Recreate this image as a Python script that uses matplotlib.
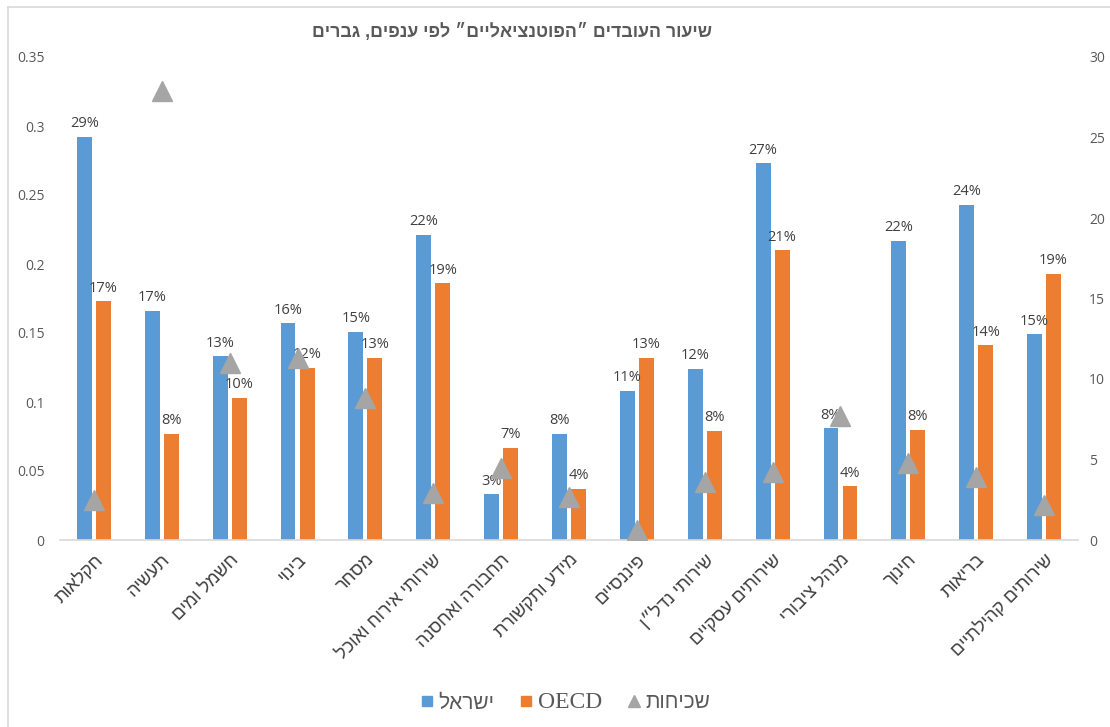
import numpy as np
import matplotlib
matplotlib.use("Agg")
import matplotlib.pyplot as plt
from matplotlib.lines import Line2D
from matplotlib.ticker import FuncFormatter

# sectors, left to right
sectors = ["חקלאות", "תעשיה", "חשמל ומים", "בינוי", "מסחר",
           "שירותי אירוח ואוכל", "תחבורה ואחסנה", "מידע ותקשורת",
           "פיננסיים", "שירותי נדל״ן", "שירותים עסקיים", "מנהל ציבורי",
           "חינוך", "בריאות", "שירותים קהילתיים"]

# share of "potential" workers, men (left axis)
israel = [0.292, 0.166, 0.133, 0.157, 0.151, 0.221, 0.033, 0.077,
          0.108, 0.124, 0.273, 0.081, 0.217, 0.243, 0.149]
oecd = [0.173, 0.077, 0.103, 0.125, 0.132, 0.186, 0.067, 0.037,
        0.132, 0.079, 0.210, 0.039, 0.080, 0.141, 0.193]

# frequency (right axis)
freq = [2.5, 27.9, 11.0, 11.3, 8.8, 2.9, 4.5, 2.7,
        0.6, 3.6, 4.2, 7.7, 4.8, 3.9, 2.2]

title = "שיעור העובדים ״הפוטנציאליים״ לפי ענפים, גברים"
legend_labels = ["ישראל", "OECD", "שכיחות"]

BLUE, ORANGE, GREY = "#5B9BD5", "#ED7D31", "#A5A5A5"
TXT, TICK, LINE = "#404040", "#595959", "#D9D9D9"
HEB = ["Liberation Sans", "DejaVu Sans"]
NUM = ["Open Sans", "DejaVu Sans"]


def rtl(s):
    # matplotlib has no bidi support: draw Hebrew in visual order
    return s[::-1]


fig = plt.figure(figsize=(11.1, 7.27), dpi=100)
ax = fig.add_axes([60 / 1110, 187 / 727, 1018 / 1110, 483 / 727])
ax2 = ax.twinx()

x = np.arange(len(sectors))
w = 0.22
off = 0.14
b1 = ax.bar(x - off, israel, w, color=BLUE, zorder=2)
b2 = ax.bar(x + off, oecd, w, color=ORANGE, zorder=2)

for bars in (b1, b2):
    for r in bars:
        v = r.get_height()
        ax.annotate(f"{v:.0%}", (r.get_x() + r.get_width() / 2, v),
                    xytext=(0, 4), textcoords="offset points",
                    ha="center", va="bottom", fontsize=10.5,
                    color=TXT, family=NUM)

ax2.plot(x, freq, ls="none", marker="^", ms=14, color=GREY, zorder=3)

ax.set_xlim(-0.5, len(sectors) - 0.5)
ax.set_ylim(0, 0.35)
ax.set_yticks(np.arange(0, 0.351, 0.05))
ax.yaxis.set_major_formatter(FuncFormatter(lambda v, _: f"{v:.2f}".rstrip("0").rstrip(".")))
ax2.set_ylim(0, 30)
ax2.set_yticks(range(0, 31, 5))

ax.set_xticks(x)
ax.set_xticklabels([rtl(s) for s in sectors], rotation=45, ha="right",
                   rotation_mode="anchor", fontsize=13, color=TXT, family=HEB)

for a in (ax, ax2):
    for s in a.spines.values():
        s.set_visible(False)
ax.spines["bottom"].set_visible(True)
ax.spines["bottom"].set_color(LINE)
ax.spines["bottom"].set_linewidth(1.2)

ax.tick_params(axis="x", length=0, pad=8)
ax.tick_params(axis="y", length=0, pad=11, labelsize=10, labelcolor=TICK)
ax2.tick_params(axis="y", length=0, pad=8, labelsize=10, labelcolor=TICK)
for t in ax.get_yticklabels() + ax2.get_yticklabels():
    t.set_family(NUM)

fig.text(512 / 1110, 1 - 32 / 727, rtl(title), ha="center", va="center",
         fontsize=12.8, fontweight="bold", color=TICK, family=HEB)

handles = [Line2D([], [], ls="none", marker="s", ms=7, color=BLUE),
           Line2D([], [], ls="none", marker="s", ms=7, color=ORANGE),
           Line2D([], [], ls="none", marker="^", ms=9, color=GREY)]
leg = fig.legend(handles, [rtl(l) if l != "OECD" else l for l in legend_labels],
                 loc="center", bbox_to_anchor=(565 / 1110, 24 / 727), ncol=3,
                 frameon=False, handlelength=0.7, handletextpad=0.2,
                 columnspacing=1.2, fontsize=15)
for t in leg.get_texts():
    t.set_color(TICK)
    t.set_family(HEB)
leg.get_texts()[1].set_family("Liberation Serif")
leg.get_texts()[1].set_fontsize(17)

# chart area border (left and top edges)
fig.add_artist(Line2D([8 / 1110, 8 / 1110], [0, 1 - 7 / 727],
                      transform=fig.transFigure, color=LINE, lw=1.2))
fig.add_artist(Line2D([8 / 1110, 1], [1 - 7 / 727, 1 - 7 / 727],
                      transform=fig.transFigure, color=LINE, lw=1.2))

fig.savefig("out.png", dpi=100)
